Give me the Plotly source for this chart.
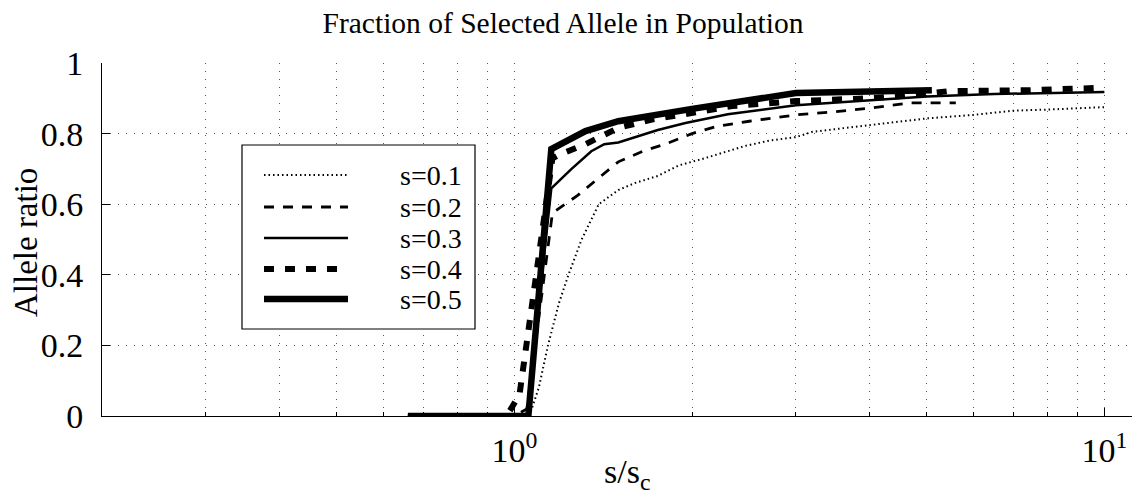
import plotly.graph_objects as go
import math

# ---------------- data ----------------
x_s01 = [0.66, 1.0, 1.06, 1.1, 1.14, 1.19, 1.235, 1.3, 1.39, 1.5, 1.6, 1.75, 1.9, 2.1, 2.46, 2.7, 3.0, 3.2, 4.0, 5.0, 6.0, 7.0, 8.0, 9.0, 10.0]
y_s01 = [0, 0, 0, 0.08, 0.2, 0.32, 0.4, 0.5, 0.6, 0.64, 0.66, 0.68, 0.71, 0.73, 0.765, 0.78, 0.79, 0.805, 0.825, 0.843, 0.853, 0.865, 0.868, 0.872, 0.875]

x_s02 = [0.66, 1.0, 1.05, 1.16, 1.28, 1.4, 1.5, 1.65, 1.8, 2.0, 2.2, 2.5, 3.0, 3.5, 4.0, 4.7, 5.6]
y_s02 = [0, 0, 0.02, 0.575, 0.625, 0.68, 0.72, 0.75, 0.77, 0.80, 0.82, 0.835, 0.853, 0.862, 0.872, 0.887, 0.887]

x_s03 = [0.66, 1.0, 1.05, 1.155, 1.25, 1.35, 1.42, 1.5, 1.6, 1.75, 1.95, 2.3, 3.0, 4.0, 5.0, 6.5, 8.0, 10.0]
y_s03 = [0, 0, 0, 0.645, 0.70, 0.75, 0.77, 0.775, 0.79, 0.81, 0.83, 0.855, 0.88, 0.895, 0.905, 0.912, 0.915, 0.918]

x_s04 = [0.66, 0.97, 1.02, 1.16, 1.19, 1.32, 1.5, 1.71, 1.95, 2.34, 3.0, 4.0, 4.84, 5.43, 7.5, 10.0]
y_s04 = [0, 0, 0.06, 0.73, 0.74, 0.77, 0.816, 0.84, 0.855, 0.878, 0.892, 0.90, 0.91, 0.92, 0.923, 0.93]

x_s05 = [0.66, 1.056, 1.155, 1.32, 1.5, 1.8, 2.0, 3.0, 4.0, 5.1]
y_s05 = [0, 0, 0.756, 0.807, 0.835, 0.86, 0.87, 0.915, 0.92, 0.923]

series_names = ["s=0.1", "s=0.2", "s=0.3", "s=0.4", "s=0.5"]
y_tick_vals = [0, 0.2, 0.4, 0.6, 0.8, 1]
y_tick_text = ["0", "0.2", "0.4", "0.6", "0.8", "1"]
x_major_vals = [1, 10]
x_major_text = ["10<sup>0</sup>", "10<sup>1</sup>"]
x_minor_vals = [0.2, 0.3, 0.4, 0.5, 0.6, 0.7, 0.8, 0.9, 2, 3, 4, 5, 6, 7, 8, 9, 20]

# ---------------- styles ----------------
FONT = "Liberation Serif, Times New Roman, serif"
styles = [
    dict(width=2, dash="1.5px,3px"),
    dict(width=2.8, dash="10px,9px"),
    dict(width=2.5, dash="solid"),
    dict(width=6, dash="10px,11px"),
    dict(width=6.5, dash="solid"),
]

W, H = 1140, 494
L, R, T, B = 94, 0, 55, 86
plot_w = W - L - R
plot_h = H - T - B
decade_px = 590.0
x0 = math.log10(0.2)
x1 = x0 + plot_w / decade_px

fig = go.Figure()
for xs, ys, name, st in zip([x_s01, x_s02, x_s03, x_s04, x_s05],
                            [y_s01, y_s02, y_s03, y_s04, y_s05],
                            series_names, styles):
    fig.add_trace(go.Scatter(x=xs, y=ys, mode="lines", name=name,
                             line=dict(color="black", width=st["width"], dash=st["dash"]),
                             showlegend=False))

grid_kw = dict(gridcolor="rgba(0,0,0,0.65)", gridwidth=1, griddash="1px,7px")

def px_x(px):
    return (px - L) / plot_w

def px_y(py):
    return (H - B - py) / plot_h

fig.update_layout(
    width=W, height=H, autosize=False,
    margin=dict(l=L, r=R, t=T, b=B),
    paper_bgcolor="white", plot_bgcolor="white",
    font=dict(family=FONT, size=32, color="black"),
    title=dict(text="Fraction of Selected Allele in Population",
               x=555 / W, xanchor="center", xref="container",
               y=1 - 15 / H, yanchor="middle", yref="container",
               font=dict(family=FONT, size=29.5, color="black")),
    xaxis=dict(type="log", range=[x0, x1],
               tickmode="array", tickvals=x_major_vals, ticktext=x_major_text,
               ticks="inside", ticklen=8, tickcolor="black", tickwidth=1,
               showline=True, linecolor="black", linewidth=1, mirror=False,
               showgrid=True, **grid_kw, zeroline=False,
               ticklabelstandoff=4,
               tickfont=dict(family=FONT, size=34),
               minor=dict(tickmode="array", tickvals=x_minor_vals,
                          ticks="inside", ticklen=4, tickcolor="black",
                          showgrid=True, **grid_kw)),
    yaxis=dict(range=[0, 1], tickmode="array", tickvals=y_tick_vals, ticktext=y_tick_text,
               ticks="inside", ticklen=8, tickcolor="black", tickwidth=1,
               showline=True, linecolor="black", linewidth=1, mirror=False,
               showgrid=True, **grid_kw, zeroline=False,
               ticklabelstandoff=11,
               tickfont=dict(family=FONT, size=34)),
)

# axis titles placed as in the reference
fig.add_annotation(xref="paper", yref="paper", x=px_x(619), y=px_y(466),
                   xanchor="center", yanchor="middle", showarrow=False,
                   text="s/s<sub>c</sub>", font=dict(family=FONT, size=34, color="black"))
fig.add_annotation(xref="paper", yref="paper", x=px_x(18), y=px_y(234),
                   xanchor="center", yanchor="middle", showarrow=False, textangle=-90,
                   borderpad=0,
                   text="Allele ratio", font=dict(family=FONT, size=33, color="black"))

# ---------------- legend box (drawn to mimic the MATLAB legend) ----------------
box = dict(x0=234, x1=467, y0=137, y1=321)
fig.add_shape(type="rect", xref="paper", yref="paper",
              x0=px_x(box["x0"]), x1=px_x(box["x1"]),
              y0=px_y(box["y1"]), y1=px_y(box["y0"]),
              line=dict(color="black", width=1.2), fillcolor="white", layer="above")
row_y = [167, 199, 230, 261, 291]
for name, st, ry in zip(series_names, styles, row_y):
    fig.add_shape(type="line", xref="paper", yref="paper",
                  x0=px_x(256), x1=px_x(340), y0=px_y(ry), y1=px_y(ry),
                  line=dict(color="black", width=st["width"], dash=st["dash"]),
                  layer="above")
    fig.add_annotation(xref="paper", yref="paper", x=px_x(456), y=px_y(ry),
                       xanchor="right", yanchor="middle", text=name, showarrow=False,
                       font=dict(family=FONT, size=28, color="black"))

fig.write_html("out.html")
